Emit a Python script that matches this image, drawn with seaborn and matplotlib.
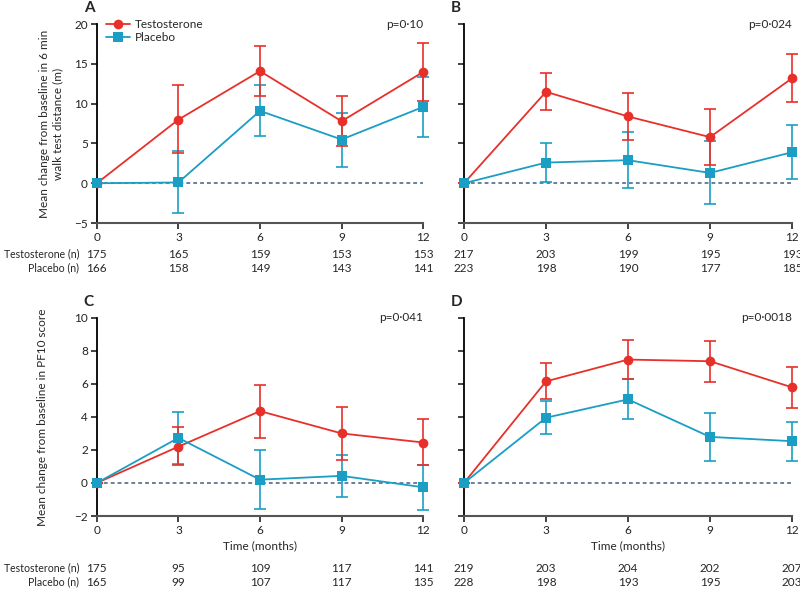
import matplotlib
matplotlib.use("Agg")
import matplotlib.pyplot as plt
import seaborn as sns
import pandas as pd

months = [0, 3, 6, 9, 12]

# A: 6 min walk test (m)
a_testo = [0, 8.0, 14.1, 7.8, 14.0]
a_testo_lo = [0, 3.8, 11.0, 4.7, 10.4]
a_testo_hi = [0, 12.4, 17.2, 11.0, 17.6]
a_plac = [0, 0.1, 9.1, 5.5, 9.6]
a_plac_lo = [0, -3.8, 5.9, 2.1, 5.8]
a_plac_hi = [0, 4.1, 12.3, 8.8, 13.4]
a_n_testo = [175, 165, 159, 153, 153]
a_n_plac = [166, 158, 149, 143, 141]

# B
b_testo = [0, 11.5, 8.4, 5.8, 13.2]
b_testo_lo = [0, 9.2, 5.5, 2.3, 10.2]
b_testo_hi = [0, 13.9, 11.4, 9.3, 16.3]
b_plac = [0, 2.6, 2.9, 1.3, 3.9]
b_plac_lo = [0, 0.2, -0.6, -2.6, 0.5]
b_plac_hi = [0, 5.1, 6.5, 5.3, 7.3]
b_n_testo = [217, 203, 199, 195, 193]
b_n_plac = [223, 198, 190, 177, 185]

# C: PF10 score
c_testo = [0, 2.2, 4.35, 3.0, 2.45]
c_testo_lo = [0, 1.07, 2.75, 1.4, 1.1]
c_testo_hi = [0, 3.4, 5.95, 4.57, 3.85]
c_plac = [0, 2.73, 0.2, 0.43, -0.26]
c_plac_lo = [0, 1.15, -1.6, -0.87, -1.62]
c_plac_hi = [0, 4.27, 2.0, 1.72, 1.09]
c_n_testo = [175, 95, 109, 117, 141]
c_n_plac = [165, 99, 107, 117, 135]

# D
d_testo = [0, 6.15, 7.47, 7.37, 5.79]
d_testo_lo = [0, 5.08, 6.28, 6.11, 4.51]
d_testo_hi = [0, 7.27, 8.66, 8.62, 7.04]
d_plac = [0, 3.95, 5.06, 2.79, 2.53]
d_plac_lo = [0, 2.94, 3.87, 1.36, 1.30]
d_plac_hi = [0, 4.94, 6.28, 4.23, 3.72]
d_n_testo = [219, 203, 204, 202, 207]
d_n_plac = [228, 198, 193, 195, 203]

RED = "#e8302a"
BLUE = "#1a9ec4"
FS = 8.5

sns.set_style("ticks")
plt.rcParams["font.family"] = ["Lato", "DejaVu Sans"]

fig = plt.figure(figsize=(8, 5.9), dpi=100)


def draw_panel(rect, letter, pval, testo, tlo, thi, plac, plo, phi, n_t, n_p,
               ylim, yticks, ylabel, ylabel_x, show_ylabels, show_xlabel):
    ax = fig.add_axes(rect)
    df = pd.DataFrame({
        "month": months * 2,
        "value": testo + plac,
        "group": ["Testosterone"] * 5 + ["Placebo"] * 5,
    })
    ax.axhline(0, color="#3f5f7f", lw=1.1, ls=(0, (2.5, 2)), zorder=1)
    # error bars (95% CI)
    for vals, lo, hi, col in [(plac, plo, phi, BLUE), (testo, tlo, thi, RED)]:
        yerr = [[v - l for v, l in zip(vals, lo)], [h - v for v, h in zip(vals, hi)]]
        ax.errorbar(months, vals, yerr=yerr, fmt="none", ecolor=col,
                    elinewidth=1.2, capsize=4, capthick=1.2, zorder=2, clip_on=False)
    sns.lineplot(data=df, x="month", y="value", hue="group", style="group",
                 hue_order=["Testosterone", "Placebo"],
                 palette={"Testosterone": RED, "Placebo": BLUE},
                 markers={"Testosterone": "o", "Placebo": "s"},
                 dashes={"Testosterone": "", "Placebo": ""},
                 markersize=7, markeredgewidth=0, lw=1.3, ax=ax,
                 legend=(letter == "A"), zorder=3, clip_on=False)
    ax.set_xlim(0, 12)
    ax.set_ylim(*ylim)
    ax.set_xticks(months)
    ax.set_yticks(yticks)
    ax.tick_params(labelsize=FS, length=4, width=1.2, pad=2.5, colors="#222222")
    if show_ylabels:
        ax.set_yticklabels([str(t).replace("-", "\u2212") for t in yticks])
        ax.set_ylabel(ylabel, fontsize=FS)
        ax.yaxis.set_label_coords(ylabel_x, 0.5)
    else:
        ax.set_yticklabels([])
        ax.set_ylabel("")
    if show_xlabel:
        ax.set_xlabel("Time (months)", fontsize=FS, labelpad=3)
    else:
        ax.set_xlabel("")
    sns.despine(ax=ax)
    ax.spines["left"].set_color("black")
    ax.spines["left"].set_linewidth(1.3)
    ax.spines["bottom"].set_color("#555555")
    ax.spines["bottom"].set_linewidth(1.5)

    ax.text(-0.04, 1.045, letter, transform=ax.transAxes, fontsize=11,
            fontweight="bold", ha="left", va="bottom")
    ax.text(1.0, 1.0, pval, transform=ax.transAxes, fontsize=FS,
            ha="right", va="center")

    # numbers at risk
    trans = ax.get_xaxis_transform()
    h = rect[3] * 5.9 * 100
    y1 = -31 / h if not show_xlabel else -52 / h
    y2 = y1 - 14 / h
    for m, a, b in zip(months, n_t, n_p):
        ax.text(m, y1, str(a), transform=trans, fontsize=FS, ha="center", va="center")
        ax.text(m, y2, str(b), transform=trans, fontsize=FS, ha="center", va="center")
    if show_ylabels:
        ax.text(-0.054, y1, "Testosterone (n)", transform=ax.transAxes, fontsize=7.6,
                ha="right", va="center")
        ax.text(-0.054, y2, "Placebo (n)", transform=ax.transAxes, fontsize=7.6,
                ha="right", va="center")

    if letter == "A":
        leg = ax.legend(loc="upper left", bbox_to_anchor=(0.015, 1.05), frameon=False,
                        fontsize=FS, handlelength=2.0, handletextpad=0.4,
                        labelspacing=0.15, borderaxespad=0)
        leg.set_title(None)
    return ax


ylab_a = "Mean change from baseline in 6 min\nwalk test distance (m)"
ylab_c = "Mean change from baseline in PF10 score"

draw_panel([0.121, 0.622, 0.408, 0.337], "A", "p=0\u00b710",
           a_testo, a_testo_lo, a_testo_hi, a_plac, a_plac_lo, a_plac_hi,
           a_n_testo, a_n_plac, (-5, 20), [-5, 0, 5, 10, 15, 20], ylab_a, -0.104, True, False)
draw_panel([0.58, 0.622, 0.41, 0.337], "B", "p=0\u00b7024",
           b_testo, b_testo_lo, b_testo_hi, b_plac, b_plac_lo, b_plac_hi,
           b_n_testo, b_n_plac, (-5, 20), [-5, 0, 5, 10, 15, 20], ylab_a, -0.104, False, False)
draw_panel([0.121, 0.1254, 0.408, 0.336], "C", "p=0\u00b7041",
           c_testo, c_testo_lo, c_testo_hi, c_plac, c_plac_lo, c_plac_hi,
           c_n_testo, c_n_plac, (-2, 10), [-2, 0, 2, 4, 6, 8, 10], ylab_c, -0.15, True, True)
draw_panel([0.58, 0.1254, 0.41, 0.336], "D", "p=0\u00b70018",
           d_testo, d_testo_lo, d_testo_hi, d_plac, d_plac_lo, d_plac_hi,
           d_n_testo, d_n_plac, (-2, 10), [-2, 0, 2, 4, 6, 8, 10], ylab_c, -0.15, False, True)

fig.savefig("out.png", dpi=100, facecolor="white")
